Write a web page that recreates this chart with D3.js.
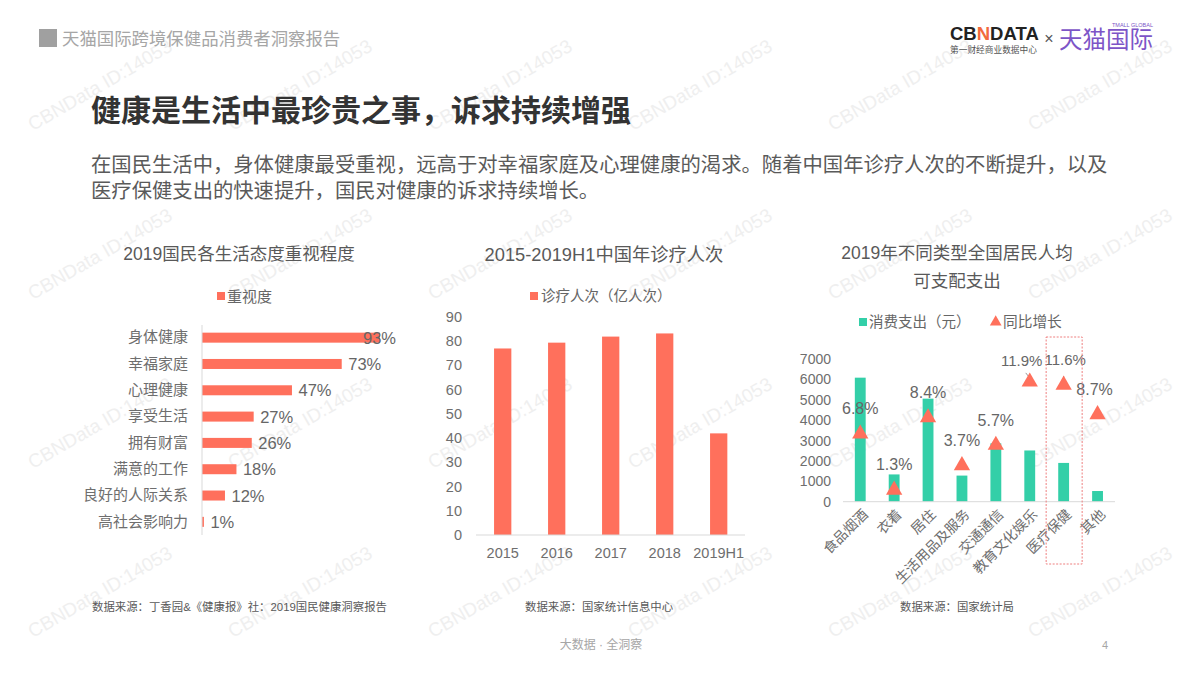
<!DOCTYPE html>
<html>
<head>
<meta charset="utf-8">
<script src="https://cdn.jsdelivr.net/npm/d3@7"></script>
<style>
  html, body { margin: 0; padding: 0; background: #fff; }
  svg { display: block; }
  text { font-family: "Liberation Sans", "Noto Sans CJK SC", sans-serif; }
  .axis text { fill: #6e6e6e; }
  .axis path, .axis line { stroke: none; }
</style>
</head>
<body>
<div id="chart"></div>
<script>
var attitudeNames = ['身体健康', '幸福家庭', '心理健康', '享受生活', '拥有财富', '满意的工作', '良好的人际关系', '高社会影响力']
var attitudeValues = [93, 73, 47, 27, 26, 18, 12, 1]

var visitYears = ['2015', '2016', '2017', '2018', '2019H1']
var visitValues = [76.9, 79.3, 81.8, 83.1, 41.9]
var visitTicks = [0, 10, 20, 30, 40, 50, 60, 70, 80, 90]

var spendNames = ['食品烟酒', '衣着', '居住', '生活用品及服务', '交通通信', '教育文化娱乐', '医疗保健', '其他']
var spendValues = [6084, 1338, 5055, 1281, 2862, 2513, 1902, 524]
var growthValues = [6.8, 1.3, 8.4, 3.7, 5.7, 11.9, 11.6, 8.7]
var spendTicks = [0, 1000, 2000, 3000, 4000, 5000, 6000, 7000]

var sources = ['数据来源：丁香园&《健康报》社：2019国民健康洞察报告', '数据来源：国家统计信息中心', '数据来源：国家统计局']

var RED = '#ff705c'
var GREEN = '#33cfa8'
var GREY_TEXT = '#666'

var svg = d3.select('#chart').append('svg')
  .attr('width', 1200)
  .attr('height', 675)
  .attr('viewBox', '0 0 1200 675')

function label (x, y, str, size, color, anchor, weight) {
  return svg.append('text')
    .attr('x', x)
    .attr('y', y)
    .attr('dominant-baseline', 'central')
    .attr('text-anchor', anchor || 'start')
    .attr('font-size', size)
    .attr('font-weight', weight || 400)
    .attr('fill', color)
    .text(str)
}

// watermark tiles
var wm = svg.append('g').attr('fill', '#efefef').attr('font-size', 19)
d3.range(6).forEach(function (col) {
  d3.range(4).forEach(function (row) {
    wm.append('text')
      .attr('transform', 'translate(' + (100 + col * 200) + ',' + (85 + row * 169) + ') rotate(-30)')
      .attr('text-anchor', 'middle')
      .attr('dominant-baseline', 'central')
      .text('CBNData ID:14053')
  })
})

// header
svg.append('rect').attr('x', 39).attr('y', 29).attr('width', 18).attr('height', 18).attr('fill', '#a0a0a0')
label(62, 39, '天猫国际跨境保健品消费者洞察报告', 17.4, '#a6a6a6')
label(91, 110, '健康是生活中最珍贵之事，诉求持续增强', 30, '#333', 'start', 700)
label(91, 165, '在国民生活中，身体健康最受重视，远高于对幸福家庭及心理健康的渴求。随着中国年诊疗人次的不断提升，以及', 20.34, '#5a5a5a')
label(91, 191, '医疗保健支出的快速提升，国民对健康的诉求持续增长。', 20.34, '#5a5a5a')

// logos
var cbn = label(950, 33, '', 18.5, '#222', 'start', 700)
cbn.append('tspan').text('CB')
cbn.append('tspan').attr('fill', '#f26a3d').text('N')
cbn.append('tspan').text('DATA')
label(950, 50, '第一财经商业数据中心', 8.7, '#555')
label(1049, 38, '×', 16, '#555', 'middle')
label(1059, 40, '天猫国际', 23.5, '#7d55c7')
label(1153, 25, 'TMALL GLOBAL', 5.5, '#7d55c7', 'end')

// chart titles
label(239, 254, '2019国民各生活态度重视程度', 17.5, '#595959', 'middle')
label(604, 254, '2015-2019H1中国年诊疗人次', 18.3, '#595959', 'middle')
label(957, 253, '2019年不同类型全国居民人均', 17.5, '#595959', 'middle')
label(957, 281, '可支配支出', 17.5, '#595959', 'middle')

// left chart: horizontal bars
var attX = d3.scaleLinear().domain([0, 100]).range([202, 393.4])
var attY = d3.scaleBand().domain(attitudeNames).range([324.5, 535])

svg.append('rect').attr('x', 217).attr('y', 292).attr('width', 8).attr('height', 8).attr('fill', RED)
label(227, 296, '重视度', 15, GREY_TEXT)

svg.append('g').selectAll('rect')
  .data(attitudeValues)
  .join('rect')
  .attr('x', attX(0))
  .attr('y', function (d, i) { return attY(attitudeNames[i]) + attY.bandwidth() * 0.31 })
  .attr('width', function (d) { return attX(d) - attX(0) })
  .attr('height', attY.bandwidth() * 0.38)
  .attr('fill', RED)

svg.append('g')
  .attr('class', 'axis')
  .attr('transform', 'translate(202,0)')
  .call(d3.axisLeft(attY).tickSize(0).tickPadding(14))
  .selectAll('text')
  .attr('font-size', 15)

svg.append('line').attr('x1', 202).attr('x2', 202).attr('y1', 325).attr('y2', 535).attr('stroke', '#d9d9d9')

svg.append('g').selectAll('text')
  .data(attitudeValues)
  .join('text')
  .attr('x', function (d, i) { return i === 0 ? attX(d) - 17 : attX(d) + 6.5 })
  .attr('y', function (d, i) { return attY(attitudeNames[i]) + attY.bandwidth() / 2 })
  .attr('dominant-baseline', 'central')
  .attr('font-size', 16.5)
  .attr('fill', GREY_TEXT)
  .text(function (d) { return d + '%' })

// middle chart: yearly visits
var visX = d3.scaleBand().domain(visitYears).range([475.7, 745.7])
var visY = d3.scaleLinear().domain([0, 90]).range([535, 316.7])

svg.append('rect').attr('x', 530).attr('y', 292).attr('width', 8).attr('height', 8).attr('fill', RED)
label(541, 296, '诊疗人次（亿人次）', 14.5, GREY_TEXT)

svg.append('g').selectAll('rect')
  .data(visitValues)
  .join('rect')
  .attr('x', function (d, i) { return visX(visitYears[i]) + visX.bandwidth() * 0.34 })
  .attr('y', function (d) { return visY(d) })
  .attr('width', visX.bandwidth() * 0.32)
  .attr('height', function (d) { return visY(0) - visY(d) })
  .attr('fill', RED)

svg.append('g')
  .attr('class', 'axis')
  .attr('transform', 'translate(476,0)')
  .call(d3.axisLeft(visY).tickValues(visitTicks).tickSize(0).tickPadding(14))
  .selectAll('text')
  .attr('font-size', 14.5)

svg.append('g')
  .attr('class', 'axis')
  .attr('transform', 'translate(0,535)')
  .call(d3.axisBottom(visX).tickSize(0).tickPadding(13))
  .selectAll('text')
  .attr('font-size', 14.5)

svg.append('line').attr('x1', 476).attr('x2', 745).attr('y1', 535).attr('y2', 535).attr('stroke', '#d9d9d9')

// right chart: spending bars and growth triangles
var spendX = d3.scaleBand().domain(spendNames).range([843.3, 1114.5])
var spendY = d3.scaleLinear().domain([0, 7000]).range([501.7, 359])
var growthY = d3.scaleLinear().domain([0, 14]).range([503.2, 360.5])

svg.append('rect').attr('x', 859).attr('y', 318).attr('width', 8).attr('height', 8).attr('fill', GREEN)
label(869, 322, '消费支出（元）', 14.5, GREY_TEXT)
svg.append('path')
  .attr('transform', 'translate(995.7,322)')
  .attr('d', d3.symbol(d3.symbolTriangle, 60))
  .attr('fill', RED)
label(1003, 322, '同比增长', 14.7, GREY_TEXT)

svg.append('g').selectAll('rect')
  .data(spendValues)
  .join('rect')
  .attr('x', function (d, i) { return spendX(spendNames[i]) + spendX.bandwidth() * 0.34 })
  .attr('y', function (d) { return spendY(d) })
  .attr('width', spendX.bandwidth() * 0.32)
  .attr('height', function (d) { return spendY(0) - spendY(d) })
  .attr('fill', GREEN)

svg.append('g')
  .attr('class', 'axis')
  .attr('transform', 'translate(843,0)')
  .call(d3.axisLeft(spendY).tickValues(spendTicks).tickFormat(d3.format('d')).tickSize(0).tickPadding(12))
  .selectAll('text')
  .attr('font-size', 14)

var spendAxis = svg.append('g')
  .attr('class', 'axis')
  .attr('transform', 'translate(0,501.7)')
  .call(d3.axisBottom(spendX).tickSize(0))
spendAxis.selectAll('text')
  .attr('font-size', 14)
  .attr('text-anchor', 'end')
  .attr('dy', 0)
  .attr('transform', 'translate(5,10) rotate(-45)')
  .attr('dominant-baseline', 'central')
  .attr('y', 0)

svg.append('line').attr('x1', 843).attr('x2', 1115).attr('y1', 501.7).attr('y2', 501.7).attr('stroke', '#d9d9d9')

// leader lines for the two labels pulled off their markers
var leaders = [5, 6]
svg.append('g').selectAll('line')
  .data(leaders)
  .join('line')
  .attr('x1', function (i) { return spendX(spendNames[i]) + spendX.bandwidth() / 2 - (i === 5 ? 4 : 0) })
  .attr('y1', function (i) { return growthY(growthValues[i]) - 9 })
  .attr('x2', function (i) { return spendX(spendNames[i]) + spendX.bandwidth() / 2 })
  .attr('y2', function (i) { return growthY(growthValues[i]) - (i === 5 ? 4 : 2) })
  .attr('stroke', '#999')

svg.append('g').selectAll('path')
  .data(growthValues)
  .join('path')
  .attr('transform', function (d, i) {
    return 'translate(' + (spendX(spendNames[i]) + spendX.bandwidth() / 2) + ',' + growthY(d) + ')'
  })
  .attr('d', d3.symbol(d3.symbolTriangle, 115))
  .attr('fill', RED)

// the two crowded labels are a touch smaller so they sit side by side
var growthShift = { 5: -8, 6: 1.5, 7: -3 }
svg.append('g').selectAll('text')
  .data(growthValues)
  .join('text')
  .attr('x', function (d, i) { return spendX(spendNames[i]) + spendX.bandwidth() / 2 + (growthShift[i] || 0) })
  .attr('y', function (d, i) { return growthY(d) - (i === 5 ? 21 : 25) })
  .attr('text-anchor', 'middle')
  .attr('dominant-baseline', 'central')
  .attr('font-size', function (d, i) { return i === 5 || i === 6 ? 15 : 16 })
  .attr('fill', GREY_TEXT)
  .text(function (d) { return d.toFixed(1) + '%' })

// dotted highlight around the medical column
var medical = spendX('医疗保健')
svg.append('rect')
  .attr('x', medical + spendX.bandwidth() / 2 - 17.5)
  .attr('y', 337)
  .attr('width', 36)
  .attr('height', 227)
  .attr('fill', 'none')
  .attr('stroke', '#ee7f7f')
  .attr('stroke-dasharray', '2 1.5')

// sources and footer
label(92, 607, sources[0], 11.4, '#595959')
label(525, 607, sources[1], 11.4, '#595959')
label(900, 607, sources[2], 11.4, '#595959')
label(601, 645, '大数据 · 全洞察', 12, '#a6a6a6', 'middle')
label(1105, 645, '4', 11, '#a6a6a6', 'middle')
</script>
</body>
</html>
